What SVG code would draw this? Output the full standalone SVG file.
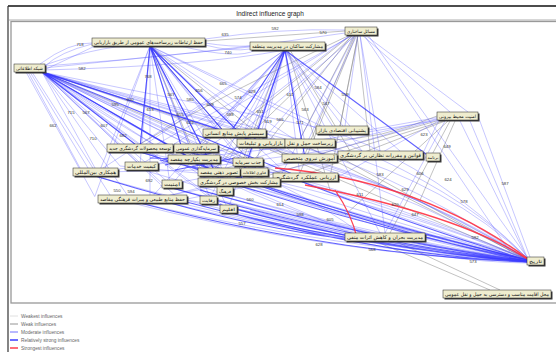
<svg xmlns="http://www.w3.org/2000/svg" width="556" height="352" viewBox="0 0 556 352">
<style>
.g{fill:none;stroke:#8a8a8a;stroke-width:.7;opacity:.75}
.m{fill:none;stroke:#4d4dff;stroke-width:.7;opacity:.45}
.s{fill:none;stroke:#2f2fff;stroke-width:1.1;opacity:.75}
.r{fill:none;stroke:#ff3040;stroke-width:1.3;opacity:.9}
.sh{fill:#3a3a3a}
.bx{fill:#efedcf;stroke:#222;stroke-width:.5}
.t{font-family:"DejaVu Sans",sans-serif;font-size:5px;fill:#111;text-anchor:middle}
.nl{font-family:"Liberation Sans",sans-serif;font-size:4.3px;fill:#333;text-anchor:middle}
.lg{font-family:"Liberation Sans",sans-serif;font-size:4.8px;fill:#666}
</style>
<rect width="556" height="352" fill="#fff"/>
<g id="frame">
<line x1="8" y1="6" x2="556" y2="6" stroke="#111" stroke-width="1.5"/>
<line x1="8" y1="6" x2="8" y2="352" stroke="#333" stroke-width="1.2"/>
<line x1="9" y1="20" x2="556" y2="20" stroke="#999" stroke-width=".8"/>
<rect x="11" y="21.5" width="560" height="281.5" fill="none" stroke="#999" stroke-width="1.3"/>
<text x="270" y="15.5" font-family="Liberation Sans, sans-serif" font-size="6.5" text-anchor="middle" fill="#222">Indirect influence graph</text>
</g>
<g id="connectors">
<path class="g" d="M358,35 L340,126 M357,35 L370,151 M355,35 L305,154 M356,35 L300,173 M354,35 L300,139 M350,35 Q230,90 140,144 M352,35 L240,178 M351,35 L235,129 M353,35 L215,168 M358,35 L330,177 M205,41 L345,31 M445,121 L310,173 M450,121 L390,233 M440,120 L320,154 M443,121 L260,178 M448,121 L345,215 M455,121 L420,200 M375,241 L490,290 M395,241 L500,290 M290,50 L350,151 M283,50 L240,168 M288,50 L330,190 M150,46 L200,168 M150,46 L260,173 M150,46 L290,160 M42,72 L300,158 M42,72 L280,173 M527,260 L345,160 M527,259 L300,143 M527,260 L270,150 M437,116 Q380,140 330,140"/>
<path class="m" d="M40,64 Q70,42 92,43 M42,66 Q110,42 150,46 M44,68 Q160,56 250,47 M44,70 Q200,66 285,50 M42,72 L230,133 M42,72 L260,143 M42,72 L300,143 M42,72 L330,130 M42,72 L360,155 M42,72 L190,158 M42,72 L140,148 M42,72 L140,165 M42,72 L95,168 M42,72 L130,199 M42,72 L215,172 M42,72 L230,182 M42,72 L195,148 M42,72 L170,184 M42,72 L254,172 M42,72 L248,162 M42,72 L210,198 M42,72 L228,209 M42,72 L225,191 M30,72 L88,168 M28,72 L80,168 M32,72 L110,195 M26,72 L95,197 M42,72 Q260,215 527,259 M42,72 Q280,245 527,261 M42,72 L270,177 M42,72 L120,166 M42,72 L160,184 M42,72 L180,200 M42,72 L250,143 M42,72 L280,143 M42,72 L310,158 M42,72 L345,160 M42,72 L200,150"/>
<path class="m" d="M150,46 L225,133 M150,46 L250,143 M150,46 L300,143 M150,46 L140,148 M150,46 L190,148 M150,46 L185,158 M150,46 L140,165 M150,46 L215,172 M150,46 L230,182 M150,46 L170,184 M150,46 L150,199 M150,46 L300,158 M150,46 L370,155 M150,46 L290,177 M150,46 L225,190 M150,46 L210,198 M150,46 L100,170 M150,46 L250,172 M150,46 L245,162 M150,46 L330,130 M150,46 L95,196 M150,46 L228,209 M205,39 Q280,28 345,30 M205,43 Q230,47 250,46 M205,45 Q232,52 250,49 M180,46 Q240,60 255,50 M92,44 Q60,52 45,66 M95,46 Q70,58 44,70"/>
<path class="m" d="M285,50 L230,133 M285,50 L258,143 M285,50 L305,143 M285,50 L335,130 M285,50 L365,155 M285,50 L305,158 M285,50 L300,177 M285,50 L240,182 M285,50 L215,172 M285,50 L190,158 M285,50 L140,148 M285,50 L195,148 M285,50 L248,162 M285,50 L254,172 M285,50 L380,233 M285,50 L150,199 M285,50 L100,170 M285,50 L172,184 M285,50 L225,190 M285,50 L210,198 M285,50 L228,209 M285,50 L400,151 M285,50 L350,126"/>
<path class="m" d="M362,35 L450,112 M365,35 L468,112 M368,35 L527,257 M364,35 L510,252 M358,35 L345,126 M360,35 L380,151 M360,35 L385,233 M357,35 L300,158 M355,35 L280,177 M353,35 L150,148 M352,35 L140,165 M350,35 L225,133 M354,35 L260,143 M356,35 L200,168 M345,33 Q200,55 45,66"/>
<path class="m" d="M440,117 L368,130 M440,118 L423,153 M440,118 L335,143 M440,120 L338,177 M470,121 L527,257 M460,121 L527,258 M478,116 L530,257 M438,119 L300,160 M440,120 L260,150 M445,121 L385,233"/>
<path class="m" d="M230,137 Q380,170 527,259 M260,147 Q400,180 527,259 M305,147 Q420,185 527,259 M340,134 Q440,170 527,258 M380,159 Q470,200 527,258 M305,162 Q420,200 527,259 M300,181 Q420,225 527,260 M240,186 Q400,230 527,260 M215,176 Q380,225 527,260 M254,176 Q400,225 527,260 M248,166 Q390,200 527,259 M190,162 Q370,220 527,260 M195,152 Q380,200 527,259 M140,152 Q340,215 527,260 M140,169 Q340,230 527,261 M95,176 Q320,240 527,261 M140,203 Q340,250 527,261 M172,188 Q360,240 527,261 M225,194 Q380,240 527,261 M210,202 Q370,245 527,262 M228,212 Q380,250 527,262 M385,241 Q460,255 527,262 M425,237 L527,260 M187,200 Q280,215 345,236 M170,203 Q260,225 345,238 M233,209 Q300,225 345,235 M240,186 Q300,210 350,233 M280,185 Q330,210 360,233 M425,235 Q480,240 527,259 M425,239 Q470,250 527,261 M300,160 Q430,195 527,259 M330,150 Q450,185 527,258 M270,180 Q420,215 527,260 M200,190 Q380,240 527,261 M160,185 Q350,235 527,261 M120,200 Q330,255 527,262 M250,210 Q400,250 527,262 M345,239 Q450,262 527,263 M180,203 Q360,248 527,262"/>
<path class="m" d="M140,152 L240,172 M160,150 L260,180 M120,166 L230,176 M100,172 L200,170 M150,199 L240,182 M187,199 L280,180 M170,184 L300,160 M200,168 L330,150 M230,133 L190,158 M260,143 L200,170 M300,143 L215,172 M250,145 L150,165 M190,150 L300,177 M220,176 L310,160 M95,172 L190,160 M140,203 L250,175 M175,160 L305,145 M230,182 L350,155"/>
<path class="s" d="M42,72 L260,143 M42,72 L300,177 M42,72 L190,158 M42,72 L140,148 M42,72 L215,172 M150,46 L185,158 M150,46 L225,133 M150,46 L215,172 M150,46 L250,143 M150,46 L140,148 M285,50 L430,157 M285,50 L305,158 M285,50 L240,182 M285,50 L230,133 M240,186 Q400,235 527,260 M140,203 Q340,255 527,262 M95,176 Q320,245 527,261 M172,188 Q370,245 527,261 M228,212 Q380,255 527,262 M210,202 Q380,250 527,262 M170,203 Q260,228 345,239 M140,152 L200,170 M160,160 L230,175 M180,150 L240,165 M260,186 Q420,240 527,261 M200,190 Q380,242 527,261 M300,181 Q420,228 527,260 M190,162 Q370,222 527,260 M150,158 L220,160 M165,165 L215,152 M175,170 L235,158"/>
<path class="r" d="M275,168 Q420,180 527,258 M305,185 Q460,215 527,259 M335,190 Q352,215 357,238"/>
</g>
<g id="edge-labels">
<text class="nl" x="80" y="46">718</text><text class="nl" x="225" y="36">635</text><text class="nl" x="275" y="30">592</text><text class="nl" x="323" y="34">570</text><text class="nl" x="228" y="54">740</text><text class="nl" x="82" y="70">582</text><text class="nl" x="148" y="78">768</text><text class="nl" x="223" y="85">665</text><text class="nl" x="199" y="92">656</text><text class="nl" x="252" y="93">628</text><text class="nl" x="238" y="99">574</text><text class="nl" x="290" y="96">612</text><text class="nl" x="318" y="89">584</text><text class="nl" x="345" y="96">559</text><text class="nl" x="326" y="105">547</text><text class="nl" x="305" y="111">563</text><text class="nl" x="171" y="96">567</text><text class="nl" x="190" y="101">580</text><text class="nl" x="210" y="106">609</text><text class="nl" x="130" y="101">600</text><text class="nl" x="115" y="106">595</text><text class="nl" x="150" y="111">613</text><text class="nl" x="180" y="116">655</text><text class="nl" x="230" y="116">588</text><text class="nl" x="260" y="113">651</text><text class="nl" x="280" y="121">566</text><text class="nl" x="300" y="124">571</text><text class="nl" x="71" y="114">715</text><text class="nl" x="86" y="114">567</text><text class="nl" x="53" y="127">662</text><text class="nl" x="104" y="127">607</text><text class="nl" x="123" y="137">682</text><text class="nl" x="93" y="140">710</text><text class="nl" x="149" y="182">692</text><text class="nl" x="117" y="192">550</text><text class="nl" x="131" y="193">594</text><text class="nl" x="242" y="225">557</text><text class="nl" x="424" y="136">623</text><text class="nl" x="447" y="148">649</text><text class="nl" x="448" y="181">624</text><text class="nl" x="505" y="185">587</text><text class="nl" x="464" y="203">578</text><text class="nl" x="319" y="246">628</text><text class="nl" x="372" y="251">568</text><text class="nl" x="473" y="263">573</text><text class="nl" x="475" y="239">592</text><text class="nl" x="415" y="216">647</text><text class="nl" x="395" y="206">620</text><text class="nl" x="360" y="196">611</text><text class="nl" x="330" y="221">605</text><text class="nl" x="300" y="216">598</text><text class="nl" x="280" y="206">614</text><text class="nl" x="380" y="176">583</text><text class="nl" x="405" y="191">629</text><text class="nl" x="420" y="175">606</text><text class="nl" x="250" y="201">560</text><text class="nl" x="190" y="124">622</text><text class="nl" x="268" y="123">619</text>
</g>
<g id="n1"><rect class="sh" x="93.5" y="39.5" width="113" height="8"/><rect class="bx" x="92" y="38" width="113" height="8"/><text class="t" x="148.5" y="44" textLength="109" lengthAdjust="spacingAndGlyphs">حفظ ارتباطات زیرساخت‌های عمومی از طریق بازاریابی</text></g>
<g id="n2"><rect class="sh" x="251.5" y="43.5" width="75" height="8"/><rect class="bx" x="250" y="42" width="75" height="8"/><text class="t" x="287.5" y="48" textLength="71" lengthAdjust="spacingAndGlyphs">مشارکت ساکنان در مدیریت منطقه</text></g>
<g id="n3"><rect class="sh" x="346.5" y="28.5" width="32" height="8"/><rect class="bx" x="345" y="27" width="32" height="8"/><text class="t" x="361" y="33" textLength="28" lengthAdjust="spacingAndGlyphs" style="font-size:4.6px">مسائل ساختاری</text></g>
<g id="n4"><rect class="sh" x="15.5" y="65.5" width="31" height="8"/><rect class="bx" x="14" y="64" width="31" height="8"/><text class="t" x="29.5" y="70" textLength="27" lengthAdjust="spacingAndGlyphs" style="font-size:4.5px">شبکه اطلاعاتی</text></g>
<g id="n5"><rect class="sh" x="438.5" y="113.5" width="41" height="8"/><rect class="bx" x="437" y="112" width="41" height="8"/><text class="t" x="457.5" y="118" textLength="37" lengthAdjust="spacingAndGlyphs" style="font-size:4.6px">امنیت محیط بیرونی</text></g>
<g id="n6"><rect class="sh" x="317.5" y="127.5" width="52" height="8"/><rect class="bx" x="316" y="126" width="52" height="8"/><text class="t" x="342" y="132" textLength="48" lengthAdjust="spacingAndGlyphs" style="font-size:4.6px">پشتیبانی اقتصادی بازار</text></g>
<g id="n7"><rect class="sh" x="204.5" y="130.5" width="63" height="8"/><rect class="bx" x="203" y="129" width="63" height="8"/><text class="t" x="234.5" y="135" textLength="59" lengthAdjust="spacingAndGlyphs">سیستم پایش منابع انسانی</text></g>
<g id="n8"><rect class="sh" x="238.5" y="140.5" width="48" height="8"/><rect class="bx" x="237" y="139" width="48" height="8"/><text class="t" x="261" y="145" textLength="44" lengthAdjust="spacingAndGlyphs">بازاریابی و تبلیغات</text></g>
<g id="n9"><rect class="sh" x="286.5" y="140.5" width="50" height="8"/><rect class="bx" x="285" y="139" width="50" height="8"/><text class="t" x="310" y="145" textLength="46" lengthAdjust="spacingAndGlyphs">زیرساخت حمل و نقل</text></g>
<g id="n10"><rect class="sh" x="108.5" y="145.5" width="66" height="8"/><rect class="bx" x="107" y="144" width="66" height="8"/><text class="t" x="140" y="150" textLength="62" lengthAdjust="spacingAndGlyphs">توسعه محصولات گردشگری جدید</text></g>
<g id="n11"><rect class="sh" x="175.5" y="145.5" width="44" height="8"/><rect class="bx" x="174" y="144" width="44" height="8"/><text class="t" x="196" y="150" textLength="40" lengthAdjust="spacingAndGlyphs" style="font-size:4.6px">سرمایه‌گذاری عمومی</text></g>
<g id="n12"><rect class="sh" x="339.5" y="152.5" width="85" height="8"/><rect class="bx" x="338" y="151" width="85" height="8"/><text class="t" x="380.5" y="157" textLength="81" lengthAdjust="spacingAndGlyphs">قوانین و مقررات نظارتی بر گردشگری</text></g>
<g id="n13"><rect class="sh" x="427.5" y="154.5" width="14" height="8"/><rect class="bx" x="426" y="153" width="14" height="8"/><text class="t" x="433" y="159" textLength="11" lengthAdjust="spacingAndGlyphs" style="font-size:4px">برنامه</text></g>
<g id="n14"><rect class="sh" x="283.5" y="155.5" width="55" height="8"/><rect class="bx" x="282" y="154" width="55" height="8"/><text class="t" x="309.5" y="160" textLength="51" lengthAdjust="spacingAndGlyphs">آموزش نیروی متخصص</text></g>
<g id="n15"><rect class="sh" x="169.5" y="156.5" width="52" height="8"/><rect class="bx" x="168" y="155" width="52" height="8"/><text class="t" x="194" y="161" textLength="48" lengthAdjust="spacingAndGlyphs">مدیریت یکپارچه مقصد</text></g>
<g id="n16"><rect class="sh" x="126.5" y="163.5" width="33" height="8"/><rect class="bx" x="125" y="162" width="33" height="8"/><text class="t" x="141.5" y="168" textLength="29" lengthAdjust="spacingAndGlyphs">کیفیت خدمات</text></g>
<g id="n17"><rect class="sh" x="234.5" y="159.5" width="30" height="8"/><rect class="bx" x="233" y="158" width="30" height="8"/><text class="t" x="248" y="164" textLength="26" lengthAdjust="spacingAndGlyphs">جذب سرمایه</text></g>
<g id="n18"><rect class="sh" x="74.5" y="169.5" width="45" height="8"/><rect class="bx" x="73" y="168" width="45" height="8"/><text class="t" x="95.5" y="174" textLength="41" lengthAdjust="spacingAndGlyphs">همکاری بین‌المللی</text></g>
<g id="n19"><rect class="sh" x="199.5" y="169.5" width="42" height="8"/><rect class="bx" x="198" y="168" width="42" height="8"/><text class="t" x="219" y="174" textLength="38" lengthAdjust="spacingAndGlyphs">تصویر ذهنی مقصد</text></g>
<g id="n20"><rect class="sh" x="242.5" y="169.5" width="27" height="8"/><rect class="bx" x="241" y="168" width="27" height="8"/><text class="t" x="254.5" y="174" textLength="23" lengthAdjust="spacingAndGlyphs" style="font-size:4px">فناوری اطلاعات</text></g>
<g id="n21"><rect class="sh" x="274.5" y="174.5" width="65" height="8"/><rect class="bx" x="273" y="173" width="65" height="8"/><text class="t" x="305.5" y="179" textLength="61" lengthAdjust="spacingAndGlyphs">ارزیابی عملکرد گردشگری</text></g>
<g id="n22"><rect class="sh" x="199.5" y="179.5" width="82" height="8"/><rect class="bx" x="198" y="178" width="82" height="8"/><text class="t" x="239" y="184" textLength="78" lengthAdjust="spacingAndGlyphs">مشارکت بخش خصوصی در گردشگری</text></g>
<g id="n23"><rect class="sh" x="163.5" y="181.5" width="20" height="8"/><rect class="bx" x="162" y="180" width="20" height="8"/><text class="t" x="172" y="186" textLength="16" lengthAdjust="spacingAndGlyphs">امنیت</text></g>
<g id="n24"><rect class="sh" x="218.5" y="188.5" width="16" height="8"/><rect class="bx" x="217" y="187" width="16" height="8"/><text class="t" x="225" y="193" textLength="12" lengthAdjust="spacingAndGlyphs" style="font-size:4.4px">فرهنگ</text></g>
<g id="n25"><rect class="sh" x="201.5" y="197.5" width="17" height="8"/><rect class="bx" x="200" y="196" width="17" height="8"/><text class="t" x="208.5" y="202" textLength="13" lengthAdjust="spacingAndGlyphs" style="font-size:4.4px">رقابت</text></g>
<g id="n26"><rect class="sh" x="99.5" y="196.5" width="89" height="8"/><rect class="bx" x="98" y="195" width="89" height="8"/><text class="t" x="142.5" y="201" textLength="85" lengthAdjust="spacingAndGlyphs">حفظ منابع طبیعی و میراث فرهنگی مقاصد</text></g>
<g id="n27"><rect class="sh" x="221.5" y="206.5" width="17" height="8"/><rect class="bx" x="220" y="205" width="17" height="8"/><text class="t" x="228.5" y="211" textLength="13" lengthAdjust="spacingAndGlyphs" style="font-size:4.4px">اقلیم</text></g>
<g id="n28"><rect class="sh" x="346.5" y="234.5" width="80" height="8"/><rect class="bx" x="345" y="233" width="80" height="8"/><text class="t" x="385" y="239" textLength="76" lengthAdjust="spacingAndGlyphs">مدیریت بحران و کاهش اثرات منفی</text></g>
<g id="n29"><rect class="sh" x="528.5" y="258.5" width="17" height="8"/><rect class="bx" x="527" y="257" width="17" height="8"/><text class="t" x="535.5" y="263" textLength="13" lengthAdjust="spacingAndGlyphs" style="font-size:4.4px">تاریخ</text></g>
<g id="n30"><rect class="sh" x="444.5" y="291.5" width="108" height="8"/><rect class="bx" x="443" y="290" width="108" height="8"/><text class="t" x="497" y="296" textLength="104" lengthAdjust="spacingAndGlyphs">محل اقامت مناسب و دسترسی به حمل و نقل عمومی</text></g>
<g id="legend">
<line x1="10" y1="316" x2="18" y2="316" stroke="#d8d8d8" stroke-width=".8"/><text class="lg" x="21" y="317.7">Weakest influences</text>
<line x1="10" y1="324" x2="18" y2="324" stroke="#888" stroke-width=".9"/><text class="lg" x="21" y="325.7">Weak influences</text>
<line x1="10" y1="332" x2="18" y2="332" stroke="#4d4dff" stroke-width=".8"/><text class="lg" x="21" y="333.7">Moderate influences</text>
<line x1="10" y1="340" x2="18" y2="340" stroke="#2f2fff" stroke-width="1.4"/><text class="lg" x="21" y="341.7">Relatively strong influences</text>
<line x1="10" y1="348" x2="18" y2="348" stroke="#ff3040" stroke-width="1.4"/><text class="lg" x="21" y="349.7">Strongest influences</text>
</g>
</svg>
